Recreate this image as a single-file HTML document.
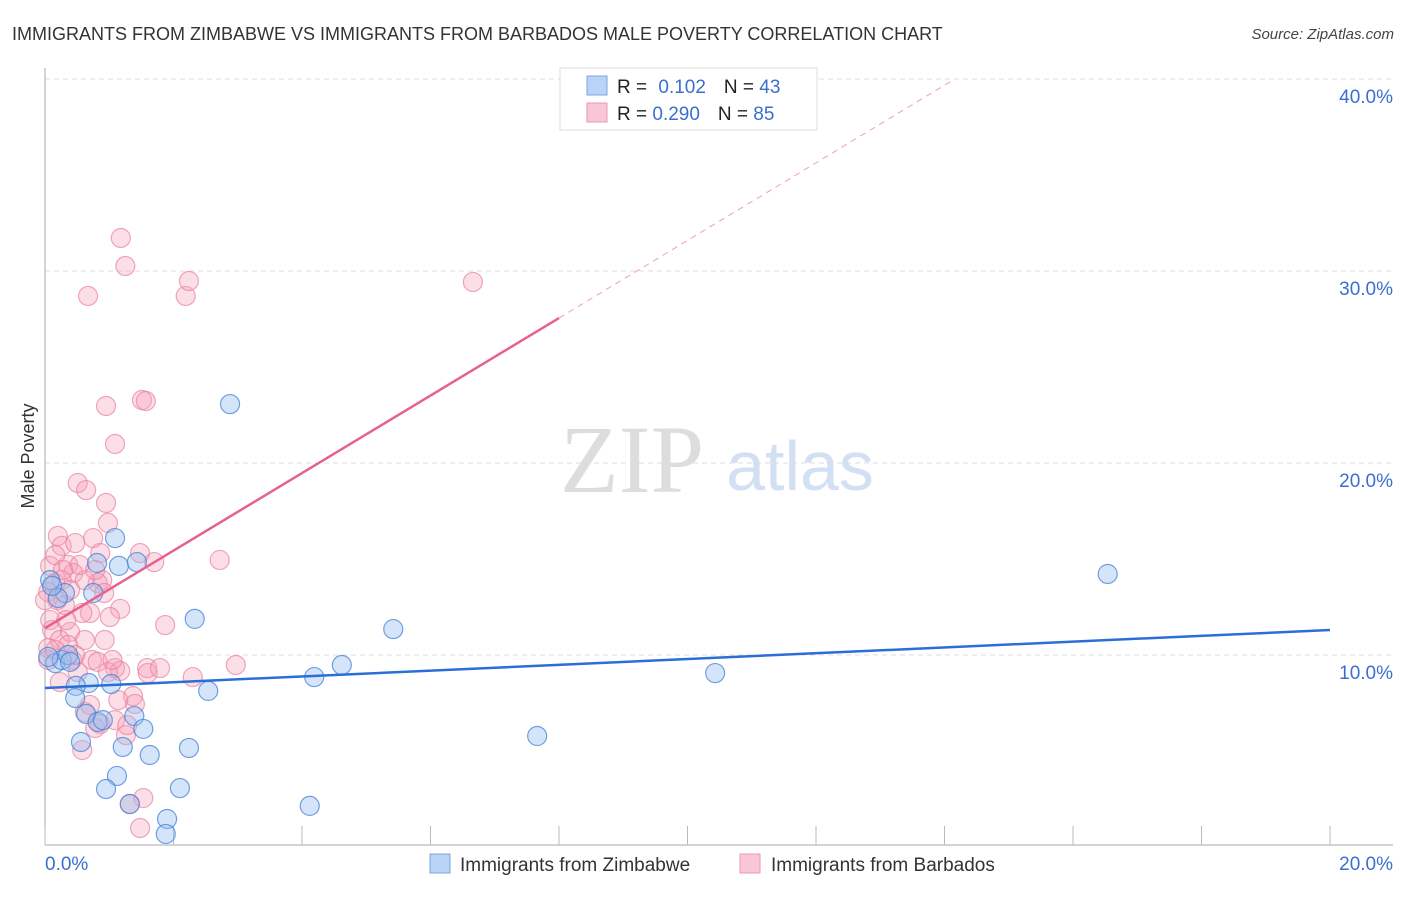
<!DOCTYPE html>
<html><head><meta charset="utf-8"><style>
body{margin:0;background:#fff;font-family:"Liberation Sans",sans-serif}
</style></head><body>
<svg id="c" width="1406" height="892" xmlns="http://www.w3.org/2000/svg">
<text x="12" y="40" font-size="18" fill="#333">IMMIGRANTS FROM ZIMBABWE VS IMMIGRANTS FROM BARBADOS MALE POVERTY CORRELATION CHART</text>
<text x="1394" y="39" font-size="15" fill="#444" font-style="italic" text-anchor="end">Source: ZipAtlas.com</text>
<text x="34" y="456" font-size="18" fill="#333" text-anchor="middle" transform="rotate(-90 34 456)">Male Poverty</text>
<text x="632" y="492" font-size="96" fill="#ddd" font-family="Liberation Serif,serif" text-anchor="middle">ZIP</text>
<text x="800" y="490" font-size="70" fill="#d3e0f3" text-anchor="middle">atlas</text>
<g id="grid"></g><g id="axes"></g><g id="pts"></g><g id="trend"></g>
<g>
<rect x="560" y="68" width="257" height="62" fill="#fff" stroke="#ddd"/>
<rect x="587" y="76" width="20" height="19" fill="#b8d3f5" stroke="#7aa6e0"/>
<rect x="587" y="103" width="20" height="19" fill="#f8c6d4" stroke="#ea9ab2"/>
<text x="617" y="93" font-size="19" fill="#222">R = <tspan fill="#3a6fd0" dx="6">0.102</tspan><tspan dx="18">N = </tspan><tspan fill="#3a6fd0">43</tspan></text>
<text x="617" y="120" font-size="19" fill="#222">R = <tspan fill="#3a6fd0">0.290</tspan><tspan dx="18">N = </tspan><tspan fill="#3a6fd0">85</tspan></text>
</g>
<g>
<rect x="430" y="854" width="20" height="19" fill="#b8d3f5" stroke="#7aa6e0"/>
<text x="460" y="871" font-size="19" fill="#333">Immigrants from Zimbabwe</text>
<rect x="740" y="854" width="20" height="19" fill="#f8c6d4" stroke="#ea9ab2"/>
<text x="771" y="871" font-size="19" fill="#333">Immigrants from Barbados</text>
</g>
</svg>
<script>
const xTicks=[0,2,4,6,8,10,12,14,16,18,20];
const yTicks=[10,20,30,40];
const blueX=[0.16,0.26,0.31,0.08,0.81,1.09,1.15,1.43,0.75,0.36,0.68,0.48,0.47,1.03,2.54,4.19,4.62,2.33,2.88,5.42,16.54,10.43,0.64,0.82,0.9,1.39,1.53,0.56,1.21,1.63,2.24,1.12,0.95,2.1,1.32,4.12,1.9,1.88,7.66,0.2,0.05,0.39,0.11];
const blueY=[9.58,9.74,13.23,13.9,14.79,16.09,14.64,14.84,13.23,10.0,8.54,8.39,7.76,8.49,8.13,8.85,9.48,11.88,23.07,11.35,14.22,9.06,6.93,6.51,6.61,6.82,6.15,5.47,5.21,4.79,5.16,3.7,3.02,3.07,2.24,2.14,1.46,0.68,5.78,12.97,9.9,9.64,13.6];
const pinkX=[1.18,1.25,0.67,2.19,2.24,6.66,0.95,1.51,1.57,1.09,0.51,0.64,0.95,0.98,0.2,0.26,0.47,0.75,1.48,1.7,2.72,0.08,0.36,0.44,0.86,0.89,0.82,0.62,0.16,0.05,0.19,0.31,0.92,1.17,0.7,0.58,1.01,1.87,0.08,0.11,0.39,0.23,0.36,0.05,0.42,0.73,0.82,1.09,1.17,1.59,1.6,2.97,2.3,0.51,0.23,0.62,1.37,1.4,0.86,1.09,0.78,1.26,0.58,1.53,1.32,1.48,0.16,0.54,0.78,0.33,0.16,0,0.26,0.62,0.93,0.39,1.14,1.28,0.7,0.98,1.79,0.05,0.28,0.47,1.05];
const pinkY=[31.72,30.26,28.7,28.7,29.48,29.43,22.97,23.28,23.23,20.99,18.96,18.59,17.92,16.88,16.2,15.68,15.83,16.09,15.31,14.84,14.95,14.64,14.69,14.27,15.31,13.9,13.75,13.9,13.75,13.28,12.86,12.6,13.23,12.4,12.19,12.19,11.98,11.56,11.82,11.3,11.2,10.78,10.52,10.36,9.74,9.74,9.64,9.32,9.17,9.32,9.06,9.48,8.85,9.11,8.59,7.03,7.86,7.45,6.41,6.61,6.2,5.83,5.05,2.55,2.24,0.99,15.2,14.69,14.43,11.82,10.26,12.86,13.9,10.78,10.78,13.39,7.65,6.35,7.4,9.11,9.32,9.74,14.43,10.0,9.74];
const blueTrend=[8.28,11.3];
const pinkTrend=[11.4,27.55,40.0];
const pinkTrendX=[0,8.0,14.16];
const NS='http://www.w3.org/2000/svg';
const X=v=>45+v*64.25, Y=v=>847-v*19.2;
function mk(t,a,p){const e=document.createElementNS(NS,t);for(const k in a)e.setAttribute(k,a[k]);document.getElementById(p).appendChild(e);return e;}
yTicks.forEach(t=>{
 const l=mk('line',{x1:45,x2:1393,y1:Y(t),y2:Y(t),stroke:'#ddd','stroke-dasharray':'5,4'},'grid');
 
 
 const tx=mk('text',{x:1393,y:Y(t)+24,'font-size':19,fill:'#3a6fd0','text-anchor':'end'},'grid');
 tx.textContent=t.toFixed(1)+'%';
 
 
});
let a=mk('line',{x1:45,x2:45,y1:68,y2:845,stroke:'#aaa'},'axes');


a=mk('line',{x1:45,x2:1393,y1:845,y2:845,stroke:'#aaa'},'axes');


xTicks.forEach(t=>{
 const l=mk('line',{x1:X(t),x2:X(t),y1:826,y2:845,stroke:'#bbb'},'axes');
 
 
});
[[0,'start'],[20,'end']].forEach(([t,an])=>{
 const tx=mk('text',{x:t==0?45:1393,y:870,'font-size':19,fill:'#3a6fd0','text-anchor':an},'axes');
 tx.textContent=t.toFixed(1)+'%';
 
 
});
pinkX.forEach((x,i)=>{
 const c=mk('circle',{cx:X(x),cy:Y(pinkY[i]),r:9.5,fill:'rgba(245,160,185,0.35)',stroke:'rgba(232,130,160,0.7)','stroke-width':1.2},'pts');
 
 
});
blueX.forEach((x,i)=>{
 const c=mk('circle',{cx:X(x),cy:Y(blueY[i]),r:9.5,fill:'rgba(150,190,240,0.4)',stroke:'rgba(70,130,215,0.75)','stroke-width':1.2},'pts');
 
 
});
let t=mk('line',{x1:X(0),y1:Y(blueTrend[0]),x2:X(20),y2:Y(blueTrend[1]),stroke:'#2a6fd6','stroke-width':2.5},'trend');


t=mk('line',{x1:X(pinkTrendX[0]),y1:Y(pinkTrend[0]),x2:X(pinkTrendX[1]),y2:Y(pinkTrend[1]),stroke:'#e8608c','stroke-width':2.5},'trend');


t=mk('line',{x1:X(pinkTrendX[1]),y1:Y(pinkTrend[1]),x2:X(pinkTrendX[2]),y2:Y(pinkTrend[2]),stroke:'#eaa0b8','stroke-width':1,'stroke-dasharray':'6,5'},'trend');


</script>
</body></html>
